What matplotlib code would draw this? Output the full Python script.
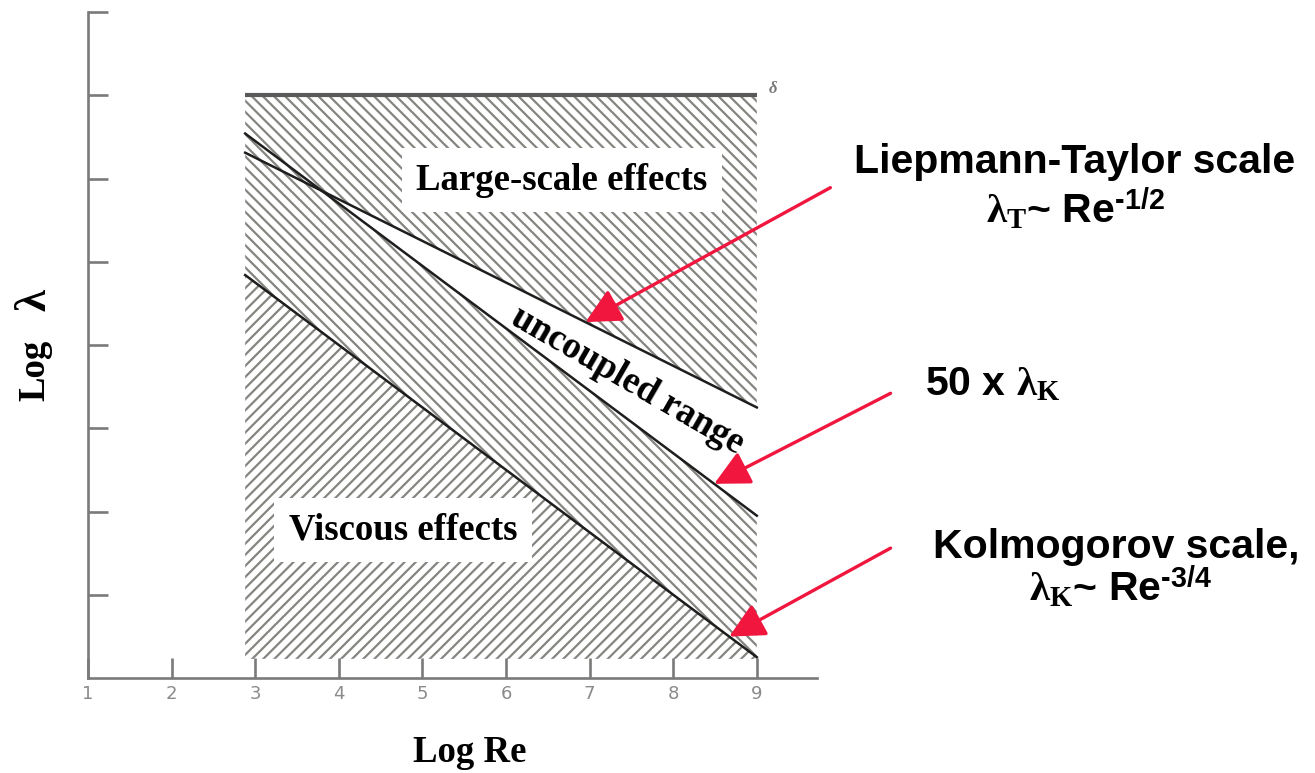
import numpy as np
import matplotlib
matplotlib.use("Agg")
import matplotlib.pyplot as plt

# ---- data -------------------------------------------------------------
log_re_ticks = [1, 2, 3, 4, 5, 6, 7, 8, 9]
log_lam_ticks = [1, 2, 3, 4, 5, 6, 7, 8]

re_range = [2.88, 9.0]          # Log Re span of the shaded diagram
lam_floor = 0.23                # lower edge of the shaded diagram
delta_level = 7.0               # Log delta (outer scale)

# straight lines in log-log form: Log lambda = intercept + slope * Log Re
kolmogorov = {"intercept": 7.0, "slope": -0.75}     # lambda_K ~ Re^-3/4
fifty_kolmogorov = {"intercept": 8.7, "slope": -0.75}  # 50 x lambda_K
taylor = {"intercept": 7.75, "slope": -0.5}         # lambda_T ~ Re^-1/2

# Log Re where each annotation arrow touches its line
arrow_tips_x = {"taylor": 6.95, "fifty": 8.49, "kolmogorov": 8.67}
arrow_tails = {"taylor": (9.88, 5.89), "fifty": (10.60, 3.42),
               "kolmogorov": (10.60, 1.56)}


def line(p, x):
    return p["intercept"] + p["slope"] * np.asarray(x)


# ---- styling ----------------------------------------------------------
plt.rcParams["mathtext.fontset"] = "custom"
plt.rcParams["mathtext.bf"] = "Liberation Serif:bold"
plt.rcParams["mathtext.rm"] = "Liberation Sans:bold"
plt.rcParams["mathtext.sf"] = "Liberation Sans:bold"
plt.rcParams["mathtext.it"] = "Liberation Serif:bold:italic"
plt.rcParams["hatch.linewidth"] = 1.6

SERIF = "Liberation Serif"
SANS = "Liberation Sans"
AXIS_GRAY = "#7a7a7a"
HATCH_GRAY = "#858580"
LINE_DARK = "#1e1e1e"
RED = "#f0163e"

fig = plt.figure(figsize=(13.15, 7.73), dpi=100)
ax = fig.add_axes([88 / 1315, 1 - 678 / 773, 729 / 1315, 666 / 773])
ax.set_xlim(1, 9.72)
ax.set_ylim(0, 8)

for side in ("top", "right"):
    ax.spines[side].set_visible(False)
for side in ("left", "bottom"):
    ax.spines[side].set_color(AXIS_GRAY)
    ax.spines[side].set_linewidth(1.9)

ax.set_xticks(log_re_ticks)
ax.set_xticklabels([str(t) for t in log_re_ticks])
ax.set_yticks(log_lam_ticks)
ax.set_yticklabels([])
ax.tick_params(axis="both", direction="in", length=14.5, width=1.9,
               color=AXIS_GRAY)
ax.tick_params(axis="x", labelsize=13, labelcolor="#8a8a8a", pad=5)

# ---- shaded regions ---------------------------------------------------
xs = np.linspace(re_range[0], re_range[1], 400)
y_t = line(taylor, xs)
y_f = line(fifty_kolmogorov, xs)
y_k = line(kolmogorov, xs)

# large-scale side (above the Taylor line)
ax.fill_between(xs, y_t, delta_level, facecolor="white",
                edgecolor=HATCH_GRAY, linewidth=0, hatch="\\\\\\", zorder=1)
# between 50 lambda_K (or Taylor, whichever is lower) and lambda_K
ax.fill_between(xs, y_k, np.minimum(y_t, y_f), facecolor="white",
                edgecolor=HATCH_GRAY, linewidth=0, hatch="\\\\\\", zorder=1)
# below the Kolmogorov line
ax.fill_between(xs, lam_floor, y_k, facecolor="white",
                edgecolor=HATCH_GRAY, linewidth=0, hatch="///", zorder=1)

# ---- lines ------------------------------------------------------------
ax.plot(re_range, [delta_level, delta_level], color="#5a5a5a", lw=3,
        solid_capstyle="butt", zorder=3)
for p in (taylor, fifty_kolmogorov, kolmogorov):
    ax.plot(re_range, line(p, re_range), color=LINE_DARK, lw=1.8, zorder=3)

ax.text(re_range[1] + 0.19, delta_level + 0.08, r"$\delta$", fontsize=12,
        color="#777777", ha="center", va="center",
        family=SERIF, style="italic")

# ---- region labels ----------------------------------------------------
box = dict(boxstyle="square,pad=0.4", facecolor="white", edgecolor="none")
ax.text(6.67, 5.98, "Large-scale effects", fontsize=26.5, family=SERIF,
        weight="bold", ha="center", va="center", bbox=box, zorder=4)
ax.text(4.77, 1.78, "Viscous effects", fontsize=26.5, family=SERIF,
        weight="bold", ha="center", va="center", bbox=box, zorder=4)
ax.text(7.45, 3.57, "uncoupled range", fontsize=26.5, family=SERIF,
        weight="bold", ha="center", va="center", rotation=-30,
        rotation_mode="anchor", zorder=4)

# ---- axis titles ------------------------------------------------------
fig.text(470 / 1315, 1 - 762 / 773, "Log Re", fontsize=26.5, family=SERIF,
         weight="bold", ha="center", va="baseline")
fig.text(35 / 1315, 1 - 370 / 773, "Log", fontsize=26.5, family=SERIF,
         weight="bold", ha="center", va="center", rotation=90)
fig.text(35 / 1315, 1 - 300 / 773, "λ", fontsize=32, family=SERIF,
         weight="bold", ha="center", va="center", rotation=90)

# ---- annotations ------------------------------------------------------
arrow_props = dict(arrowstyle="-|>,head_length=0.8,head_width=0.4",
                   color=RED, lw=2.4, mutation_scale=27,
                   shrinkA=0, shrinkB=0)
for key, p in (("taylor", taylor), ("fifty", fifty_kolmogorov),
               ("kolmogorov", kolmogorov)):
    tx = arrow_tips_x[key]
    ax.annotate("", xy=(tx, float(line(p, tx))), xytext=arrow_tails[key],
                arrowprops=arrow_props, annotation_clip=False, zorder=5)

label_kw = dict(fontsize=29.5, family=SANS, weight="bold", color="black")
fig.text(1075 / 1315, 1 - 173 / 773, "Liepmann-Taylor scale",
         ha="center", va="baseline", **label_kw)
fig.text(1075 / 1315, 1 - 222 / 773,
         "$\\mathbf{\\lambda_T}$~ Re$^{\\mathsf{\u2010" + "1/2}}$",
         ha="center", va="baseline", **label_kw)
fig.text(925 / 1315, 1 - 395 / 773, r"50 x $\mathbf{\lambda_K}$",
         ha="left", va="baseline", **label_kw)
fig.text(1116 / 1315, 1 - 558 / 773, "Kolmogorov scale,",
         ha="center", va="baseline", **label_kw)
fig.text(1121 / 1315, 1 - 600 / 773,
         "$\\mathbf{\\lambda_K}$~ Re$^{\\mathsf{\u2010" + "3/4}}$",
         ha="center", va="baseline", **label_kw)

fig.savefig("out.png", dpi=100, facecolor="white")
